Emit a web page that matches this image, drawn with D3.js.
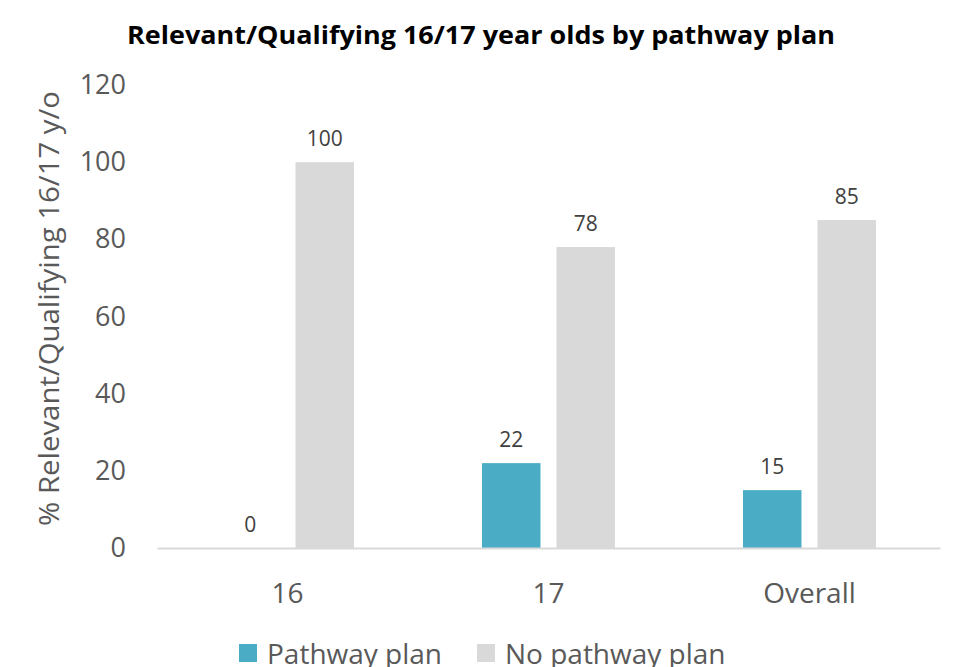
<!DOCTYPE html>
<html>
<head>
<meta charset="utf-8">
<script src="https://cdn.jsdelivr.net/npm/d3@7"></script>
<style>
  body { margin: 0; background: #fff; }
  text { font-family: "Open Sans", "Noto Sans", sans-serif; }
</style>
</head>
<body>
<svg width="954" height="667"></svg>
<script>
// chart data
let categories = ["16", "17", "Overall"];
let series = ["Pathway plan", "No pathway plan"];
let pathwayValues = [0, 22, 15];
let noPathwayValues = [100, 78, 85];
let yTicks = [0, 20, 40, 60, 80, 100, 120];

let colors = {"Pathway plan": "#4bacc6", "No pathway plan": "#d9d9d9"};

let data = categories.map((c, i) => ({
  cat: c,
  values: [
    {key: series[0], value: pathwayValues[i]},
    {key: series[1], value: noPathwayValues[i]}
  ]
}));

let svg = d3.select("svg");

let margin = {top: 85, right: 14, bottom: 119, left: 157};
let width = 954 - margin.left - margin.right;
let height = 667 - margin.top - margin.bottom;

let g = svg.append("g")
    .attr("transform", "translate(" + margin.left + "," + margin.top + ")");

// scales
let x0 = d3.scaleBand().domain(categories).range([0, width]).padding(0);
let x1 = d3.scaleBand().domain(series)
    .range([x0.bandwidth() / 2 - 66.5, x0.bandwidth() / 2 + 66.5])
    .paddingInner(0.215);
let y = d3.scaleLinear().domain([0, 120]).range([height, 0]);

// title
svg.append("text")
    .attr("x", 481)
    .attr("y", 44)
    .attr("text-anchor", "middle")
    .attr("textLength", 708)
    .attr("lengthAdjust", "spacingAndGlyphs")
    .style("font-size", "25px")
    .style("font-weight", "bold")
    .style("fill", "#000")
    .text("Relevant/Qualifying 16/17 year olds by pathway plan");

// y axis (labels only)
let yAxis = g.append("g")
    .call(d3.axisLeft(y).tickValues(yTicks).tickSize(0).tickPadding(31));
yAxis.select(".domain").remove();
yAxis.selectAll("text")
    .style("font-size", "27px")
    .style("font-family", "'Open Sans', sans-serif")
    .style("fill", "#595959");

// y axis title
svg.append("text")
    .attr("transform", "translate(59," + (margin.top + height / 2 - 8) + ") rotate(-90)")
    .attr("text-anchor", "middle")
    .attr("textLength", 435)
    .attr("lengthAdjust", "spacingAndGlyphs")
    .style("font-size", "27px")
    .style("fill", "#595959")
    .text("% Relevant/Qualifying 16/17 y/o");

// bars
let groups = g.selectAll(".grp")
    .data(data)
    .enter().append("g")
    .attr("class", "grp")
    .attr("transform", d => "translate(" + x0(d.cat) + ",0)");

groups.selectAll("rect")
    .data(d => d.values)
    .enter().append("rect")
    .attr("x", d => x1(d.key))
    .attr("y", d => y(d.value))
    .attr("width", x1.bandwidth())
    .attr("height", d => height - y(d.value))
    .attr("fill", d => colors[d.key]);

groups.selectAll(".lbl")
    .data(d => d.values)
    .enter().append("text")
    .attr("class", "lbl")
    .attr("x", d => x1(d.key) + x1.bandwidth() / 2)
    .attr("y", d => y(d.value) - 16)
    .attr("text-anchor", "middle")
    .style("font-size", "21px")
    .style("fill", "#404040")
    .text(d => d.value);

// x axis
let xAxis = g.append("g")
    .attr("transform", "translate(0," + height + ")")
    .call(d3.axisBottom(x0).tickSize(0).tickPadding(35));
xAxis.select(".domain").attr("stroke", "#d9d9d9").attr("stroke-width", 2);
xAxis.selectAll("text")
    .style("font-size", "28px")
    .style("font-family", "'Open Sans', sans-serif")
    .style("fill", "#595959");

// legend
let legendX = [239, 477];
let legend = svg.selectAll(".legend")
    .data(series)
    .enter().append("g")
    .attr("class", "legend")
    .attr("transform", (d, i) => "translate(" + legendX[i] + ",644)");
legend.append("rect")
    .attr("width", 18)
    .attr("height", 18)
    .attr("fill", d => colors[d]);
legend.append("text")
    .attr("x", 28)
    .attr("y", 20)
    .style("font-size", "28px")
    .style("fill", "#595959")
    .text(d => d);
</script>
</body>
</html>
